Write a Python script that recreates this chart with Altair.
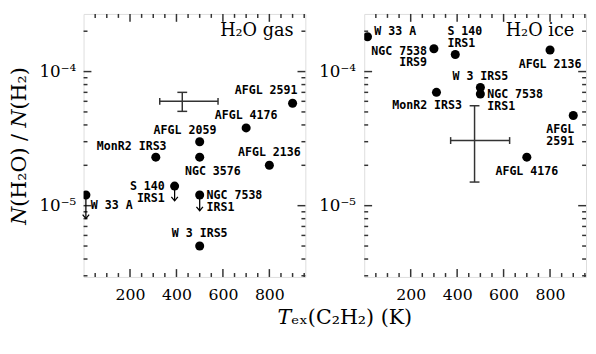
import altair as alt
import numpy as np
import pandas as pd

# ---------------- data ----------------
GAS_NAMES = ["AFGL 2591", "AFGL 4176", "AFGL 2059", "NGC 3576", "MonR2 IRS3",
             "AFGL 2136", "S 140 IRS1", "NGC 7538 IRS1", "W 33 A", "W 3 IRS5"]
GAS_TEX = [900, 700, 500, 500, 311, 800, 392, 500, 10, 500]
GAS_ABUND = [5.8e-5, 3.8e-5, 3.0e-5, 2.3e-5, 2.3e-5, 2.0e-5, 1.4e-5, 1.2e-5, 1.2e-5, 5.0e-6]
GAS_UPPER = ["S 140 IRS1", "NGC 7538 IRS1", "W 33 A"]

ICE_NAMES = ["W 33 A", "NGC 7538 IRS9", "S 140 IRS1", "AFGL 2136", "MonR2 IRS3",
             "W 3 IRS5", "NGC 7538 IRS1", "AFGL 2591", "AFGL 4176"]
ICE_TEX = [14, 300, 392, 800, 311, 500, 500, 900, 700]
ICE_ABUND = [1.82e-4, 1.48e-4, 1.34e-4, 1.45e-4, 7.0e-5, 7.6e-5, 6.8e-5, 4.7e-5, 2.3e-5]

# typical error bars
ERR_GAS = {"x": 425, "x_lo": 328, "x_hi": 579, "y": 6.0e-5, "y_lo": 5.05e-5, "y_hi": 7.0e-5}
ERR_ICE = {"x": 475, "x_lo": 372, "x_hi": 626, "y": 3.06e-5, "y_lo": 1.5e-5, "y_hi": 5.56e-5}

PANEL_TITLES = ["H\u2082O gas", "H\u2082O ice"]

X_MAJOR = [200, 400, 600, 800]
X_MINOR = [50, 100, 150, 250, 300, 350, 450, 500, 550, 650, 700, 750, 850, 900, 950]
Y_MAJOR = [1e-5, 1e-4]
Y_MINOR = [3e-6, 4e-6, 5e-6, 6e-6, 7e-6, 8e-6, 9e-6,
           2e-5, 3e-5, 4e-5, 5e-5, 6e-5, 7e-5, 8e-5, 9e-5, 2e-4]

# ---------------- style ----------------
W, H = 226, 268
X_DOMAIN = [0, 955]
Y_DOMAIN = [2.94e-6, 2.69e-4]
PX_PER_DEC = H / np.log10(Y_DOMAIN[1] / Y_DOMAIN[0])
FRAME = "#333333"
SERIF = "DejaVu Serif"
MONO = "DejaVu Sans Mono"
LABEL_SIZE = 11.8

# label lines: (point name, text, align, dx, dy)
GAS_LABELS = [
    ("AFGL 2591", "AFGL 2591", "right", 5, -13),
    ("AFGL 4176", "AFGL 4176", "center", 0, -13),
    ("AFGL 2059", "AFGL 2059", "right", 17, -12),
    ("NGC 3576", "NGC 3576", "left", -15, 14),
    ("MonR2 IRS3", "MonR2 IRS3", "right", 11, -11),
    ("AFGL 2136", "AFGL 2136", "center", 0, -13),
    ("S 140 IRS1", "S 140", "right", -10, 0),
    ("S 140 IRS1", "IRS1", "right", -10, 12),
    ("NGC 7538 IRS1", "NGC 7538", "left", 7, 0),
    ("NGC 7538 IRS1", "IRS1", "left", 7, 12),
    ("W 33 A", "W 33 A", "left", 5, 10),
    ("W 3 IRS5", "W 3 IRS5", "center", 0, -13),
]
ICE_LABELS = [
    ("W 33 A", "W 33 A", "left", 7, -6),
    ("NGC 7538 IRS9", "NGC 7538", "right", -7, 2),
    ("NGC 7538 IRS9", "IRS9", "right", -7, 14),
    ("S 140 IRS1", "S 140", "left", -8, -24),
    ("S 140 IRS1", "IRS1", "left", -8, -12),
    ("AFGL 2136", "AFGL 2136", "center", 0, 14),
    ("MonR2 IRS3", "MonR2 IRS3", "right", 26, 13),
    ("W 3 IRS5", "W 3 IRS5", "center", 0, -12),
    ("NGC 7538 IRS1", "NGC 7538", "left", 7, 0),
    ("NGC 7538 IRS1", "IRS1", "left", 7, 12),
    ("AFGL 2591", "AFGL", "right", 1, 14),
    ("AFGL 2591", "2591", "right", 1, 26),
    ("AFGL 4176", "AFGL 4176", "center", 0, 14),
]
ARROW_PX = {"S 140 IRS1": 15, "NGC 7538 IRS1": 16, "W 33 A": 24}

X_SCALE = alt.Scale(domain=X_DOMAIN, nice=False, zero=False)
Y_SCALE = alt.Scale(type="log", domain=Y_DOMAIN, nice=False)


def panel(names, tex, abund, upper, labels, err, title, y_title, label_pad):
    df = pd.DataFrame({"name": names, "x": tex, "y": abund})

    x_axis = alt.Axis(values=X_MAJOR, format="d", ticks=False, domain=False, grid=False,
                      labelFont=SERIF, labelFontSize=16, labelColor="black",
                      labelPadding=10, title=None)
    y_kw = dict(values=Y_MAJOR, ticks=False, domain=False, grid=False,
                labelExpr="datum.value < 5e-5 ? '10\u207b\u2075' : '10\u207b\u2074'",
                labelFont=SERIF, labelFontSize=17, labelColor="black",
                labelPadding=label_pad)
    if y_title:
        y_axis = alt.Axis(title=y_title, titleFont=SERIF, titleFontSize=21,
                          titleFontWeight="normal", titleColor="black", titlePadding=10, **y_kw)
    else:
        y_axis = alt.Axis(title=None, **y_kw)

    def xq(field):
        return alt.X(f"{field}:Q", scale=X_SCALE, axis=x_axis)

    def yq(field):
        return alt.Y(f"{field}:Q", scale=Y_SCALE, axis=y_axis)

    layers = []
    # points first (carry the axes)
    layers.append(alt.Chart(df).mark_circle(size=85, color="black", opacity=1, clip=True).encode(
        x=xq("x"), y=yq("y")))

    # frame ticks
    for vals, L in [(X_MAJOR, 8), (X_MINOR, 4)]:
        tdf = pd.DataFrame({"x": vals})
        layers.append(alt.Chart(tdf).mark_rule(color=FRAME, strokeWidth=1.5).encode(
            x=xq("x"), y=alt.value(H), y2=alt.value(H - L)))
        layers.append(alt.Chart(tdf).mark_rule(color=FRAME, strokeWidth=1.5).encode(
            x=xq("x"), y=alt.value(0), y2=alt.value(L)))
    for vals, L in [(Y_MAJOR, 8), (Y_MINOR, 4)]:
        tdf = pd.DataFrame({"y": vals})
        layers.append(alt.Chart(tdf).mark_rule(color=FRAME, strokeWidth=1.5).encode(
            y=yq("y"), x=alt.value(0), x2=alt.value(L)))
        layers.append(alt.Chart(tdf).mark_rule(color=FRAME, strokeWidth=1.5).encode(
            y=yq("y"), x=alt.value(W - L), x2=alt.value(W)))

    # error bar
    edf = pd.DataFrame([err])
    layers.append(alt.Chart(edf).mark_rule(color=FRAME, strokeWidth=1.5).encode(
        x=xq("x_lo"), x2="x_hi:Q", y=yq("y")))
    layers.append(alt.Chart(edf).mark_rule(color=FRAME, strokeWidth=1.5).encode(
        x=xq("x"), y=yq("y_lo"), y2="y_hi:Q"))
    hcap = pd.DataFrame({"x": [err["x_lo"], err["x_hi"]], "y": [err["y"], err["y"]]})
    vcap = pd.DataFrame({"x": [err["x"], err["x"]], "y": [err["y_lo"], err["y_hi"]]})
    layers.append(alt.Chart(hcap).mark_tick(orient="vertical", size=7, thickness=1.5,
                                            color=FRAME, opacity=1).encode(x=xq("x"), y=yq("y")))
    layers.append(alt.Chart(vcap).mark_tick(orient="horizontal", size=10, thickness=1.5,
                                            color=FRAME, opacity=1).encode(x=xq("x"), y=yq("y")))

    # upper-limit arrows
    up = df[df["name"].isin(upper)].copy()
    if len(up):
        up["y_end"] = [y * 10 ** (-ARROW_PX[n] / PX_PER_DEC) for n, y in zip(up["name"], up["y"])]
        layers.append(alt.Chart(up).mark_rule(color="black", strokeWidth=1.3).encode(
            x=xq("x"), y=yq("y"), y2="y_end:Q"))
        layers.append(alt.Chart(up).mark_point(shape="M-1,-1.2L0,0L1,-1.2", filled=False,
                                               size=44, color="black", strokeWidth=1.3,
                                               opacity=1).encode(x=xq("x"), y=yq("y_end")))

    # labels
    for name, text, align, dx, dy in labels:
        layers.append(alt.Chart(df).transform_filter(alt.datum.name == name).mark_text(
            align=align, baseline="middle", dx=dx, dy=dy, font=MONO, fontSize=LABEL_SIZE,
            fontWeight="bold", color="black").encode(x=xq("x"), y=yq("y"), text=alt.value(text)))

    # panel title
    tdf = pd.DataFrame({"title": [title]})
    layers.append(alt.Chart(tdf).mark_text(align="right", baseline="middle", font=SERIF,
                                           fontSize=18, color="black").encode(
        x=alt.value(W - 12), y=alt.value(17), text="title:N"))

    return alt.layer(*layers).properties(width=W, height=H)


left = panel(GAS_NAMES, GAS_TEX, GAS_ABUND, GAS_UPPER, GAS_LABELS, ERR_GAS,
             PANEL_TITLES[0], "\U0001D441(H\u2082O) / \U0001D441(H\u2082)", 8)
right = panel(ICE_NAMES, ICE_TEX, ICE_ABUND, [], ICE_LABELS, ERR_ICE,
              PANEL_TITLES[1], None, 9)

chart = alt.hconcat(left, right, spacing=60, bounds="flush").properties(
    padding={"left": 0, "right": 0, "top": 1, "bottom": 0},
    title=alt.TitleParams("\U0001D447\u2091\u2093(C\u2082H\u2082)   (K)", orient="bottom",
                          anchor="middle", font=SERIF, fontSize=21, fontWeight="normal",
                          color="black", dx=48, offset=4),
).configure_view(stroke=FRAME, strokeWidth=2).configure(background="white")

chart.save("out.html", embed_options={"renderer": "svg", "actions": False})
